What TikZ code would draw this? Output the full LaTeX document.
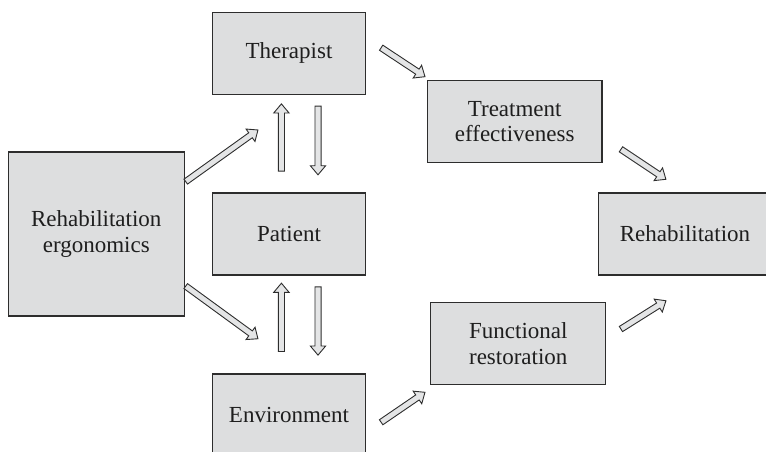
\documentclass[tikz,border=0pt]{standalone}
\usepackage{fontspec}
\setmainfont{Liberation Serif}
\usetikzlibrary{calc,shapes.arrows}

\definecolor{boxfill}{RGB}{221,222,223}
\definecolor{arrowfill}{RGB}{228,229,230}
\definecolor{edge}{RGB}{45,45,45}
\definecolor{ink}{RGB}{30,30,30}

\tikzset{
  box/.style={draw=edge, line width=1.2pt, fill=boxfill, text=ink,
    align=center, inner sep=0pt, minimum height=82pt,
    font=\fontsize{23}{25.5}\selectfont},
  hollow/.style={single arrow, draw=edge, line width=0.9pt, fill=arrowfill,
    inner xsep=0pt, inner ysep=2.6pt, minimum width=0pt,
    single arrow head extend=4.6pt, single arrow tip angle=80,
    single arrow head indent=0pt},
}

% outlined block arrow between two named points
\newcommand\blockarrow[2]{%
  \path let \p1=(#1), \p2=(#2),
    \n1={atan2(\y2-\y1,\x2-\x1)}, \n2={veclen(\x2-\x1,\y2-\y1)} in
    node[hollow, minimum height=\n2, rotate=\n1] at ($(#1)!0.5!(#2)$) {};%
}

\begin{document}
\begin{tikzpicture}[x=1pt, y=-1pt]
\useasboundingbox (0,0) rectangle (766,452);

% blocks
\node[box, minimum width=153pt] (ther) at (289,53.3) {Therapist};
\node[box, minimum width=153pt] (pat) at (289,234) {Patient};
\node[box, minimum width=153pt] (env) at (289,415) {Environment};
\node[box, minimum width=176pt, minimum height=164pt] (ergo) at (96.3,234)
  {Rehabilitation\\ergonomics};
\node[box, minimum width=174.4pt] (treat) at (514.7,121.7)
  {Treatment\\effectiveness};
\node[box, minimum width=175pt] (func) at (518.3,343.5)
  {Functional\\restoration};
\node[box, minimum width=173.2pt] (rehab) at (685,234) {Rehabilitation};

% arrow end points
\coordinate (ergoT1) at (184.2,182.7);  \coordinate (ergoT2) at (256.5,131);
\coordinate (ergoE1) at (184.2,285);    \coordinate (ergoE2) at (256.5,337.7);
\coordinate (upA1)   at (281.4,173);    \coordinate (upA2)   at (281.4,105.7);
\coordinate (dnA1)   at (318,104.3);    \coordinate (dnA2)   at (318,173);
\coordinate (upB1)   at (281.4,353.3);  \coordinate (upB2)   at (281.4,285);
\coordinate (dnB1)   at (318,285);      \coordinate (dnB2)   at (318,353.3);
\coordinate (therT1) at (379.6,46.7);   \coordinate (therT2) at (423.5,75.7);
\coordinate (trtR1)  at (619.4,148.3);  \coordinate (trtR2)  at (664.4,178.3);
\coordinate (envF1)  at (379.6,423.3);  \coordinate (envF2)  at (423.5,393.3);
\coordinate (funR1)  at (619.4,330);    \coordinate (funR2)  at (664.4,301.7);

% connectors
\blockarrow{ergoT1}{ergoT2}
\blockarrow{ergoE1}{ergoE2}
\blockarrow{upA1}{upA2}
\blockarrow{dnA1}{dnA2}
\blockarrow{upB1}{upB2}
\blockarrow{dnB1}{dnB2}
\blockarrow{therT1}{therT2}
\blockarrow{trtR1}{trtR2}
\blockarrow{envF1}{envF2}
\blockarrow{funR1}{funR2}
\end{tikzpicture}
\end{document}
